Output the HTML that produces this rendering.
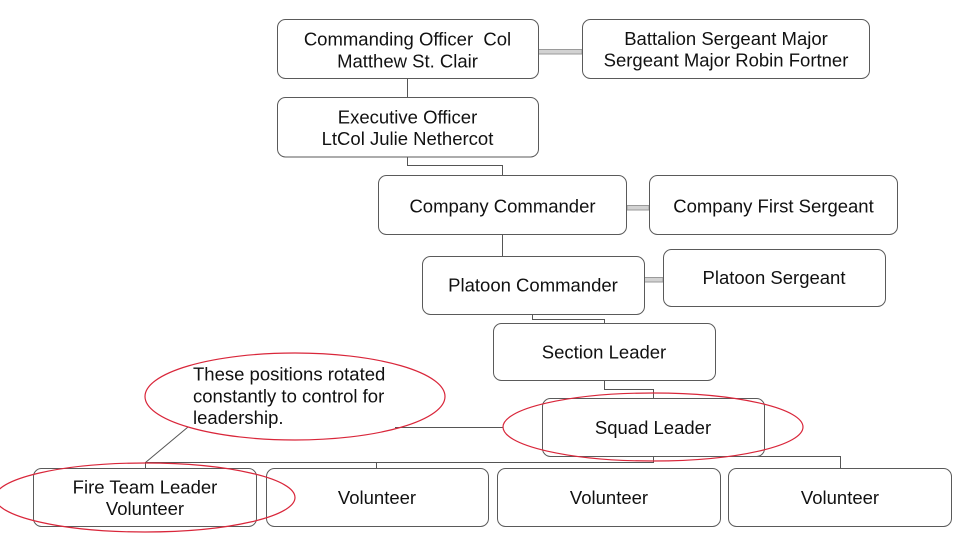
<!DOCTYPE html>
<html>
<head>
<meta charset="utf-8">
<style>
  html,body{margin:0;padding:0;background:#fff;}
  svg{display:block;}
  text{font-family:"Liberation Sans",Arial,sans-serif;font-size:18.5px;fill:#111;}
</style>
</head>
<body>
<svg width="960" height="540" viewBox="0 0 960 540" xmlns="http://www.w3.org/2000/svg">
  <rect width="960" height="540" fill="#fff"/>

  <!-- connectors -->
  <g fill="none" stroke="#555" stroke-width="1">
    <path d="M407.5 78 V97"/>
    <path d="M407.5 157 V165.5 H502.5 V175"/>
    <path d="M502.5 234 V256"/>
    <path d="M532.5 314 V319.5 H604.5 V323"/>
    <path d="M604.5 380 V389.5 H653.5 V398"/>
    <path d="M653.5 456.5 H840.5 V468"/>
    <path d="M653.5 456 V462.5 H145.5 V468"/>
    <path d="M376.5 462.5 V468"/>
    <path d="M145.5 462.5 L188 427"/>
    <path d="M395 427.5 H503"/>
  </g>

  <!-- double connectors -->
  <g fill="#d2d2d2" stroke="#9a9a9a" stroke-width="1">
    <rect x="538" y="49.5" width="44" height="4.5"/>
    <rect x="627" y="205.5" width="22" height="4.5"/>
    <rect x="644" y="277.5" width="19" height="4.5"/>
  </g>

  <!-- boxes -->
  <g fill="#fff" stroke="#5a5a5a" stroke-width="1">
    <rect x="277.5" y="19.5" width="261" height="59" rx="8"/>
    <rect x="582.5" y="19.5" width="287" height="59" rx="8"/>
    <rect x="277.5" y="97.5" width="261" height="59.5" rx="8"/>
    <rect x="378.5" y="175.5" width="248" height="59" rx="8"/>
    <rect x="649.5" y="175.5" width="248" height="59" rx="8"/>
    <rect x="422.5" y="256.5" width="222" height="58" rx="8"/>
    <rect x="663.5" y="249.5" width="222" height="57" rx="8"/>
    <rect x="493.5" y="323.5" width="222" height="57" rx="8"/>
    <rect x="542.5" y="398.5" width="222" height="58" rx="8"/>
    <rect x="33.5" y="468.5" width="223" height="58" rx="8"/>
    <rect x="266.5" y="468.5" width="222" height="58" rx="8"/>
    <rect x="497.5" y="468.5" width="223" height="58" rx="8"/>
    <rect x="728.5" y="468.5" width="223" height="58" rx="8"/>
  </g>

  <!-- labels -->
  <g text-anchor="middle">
    <text x="407.5" y="45.7" xml:space="preserve">Commanding Officer  Col</text>
    <text x="407.5" y="67.3">Matthew St. Clair</text>
    <text x="726" y="45">Battalion Sergeant Major</text>
    <text x="726" y="66.7">Sergeant Major Robin Fortner</text>
    <text x="407.5" y="123.3">Executive Officer</text>
    <text x="407.5" y="145">LtCol Julie Nethercot</text>
    <text x="502.5" y="212.3">Company Commander</text>
    <text x="773.5" y="212.3">Company First Sergeant</text>
    <text x="533" y="291.7">Platoon Commander</text>
    <text x="774" y="284">Platoon Sergeant</text>
    <text x="604" y="358.3">Section Leader</text>
    <text x="653" y="434">Squad Leader</text>
    <text x="145" y="493.3">Fire Team Leader</text>
    <text x="145" y="515">Volunteer</text>
    <text x="377" y="504">Volunteer</text>
    <text x="609" y="504">Volunteer</text>
    <text x="840" y="504">Volunteer</text>
  </g>

  <!-- callout text -->
  <text x="193" y="380.7">These positions rotated</text>
  <text x="193" y="402.3">constantly to control for</text>
  <text x="193" y="424">leadership.</text>

  <!-- red ellipses -->
  <g fill="none" stroke="#d9263a" stroke-width="1.2">
    <ellipse cx="295" cy="396.5" rx="150" ry="43.5"/>
    <ellipse cx="653" cy="427" rx="150" ry="34"/>
    <ellipse cx="145" cy="497.5" rx="150" ry="34.5"/>
  </g>
</svg>
</body>
</html>
